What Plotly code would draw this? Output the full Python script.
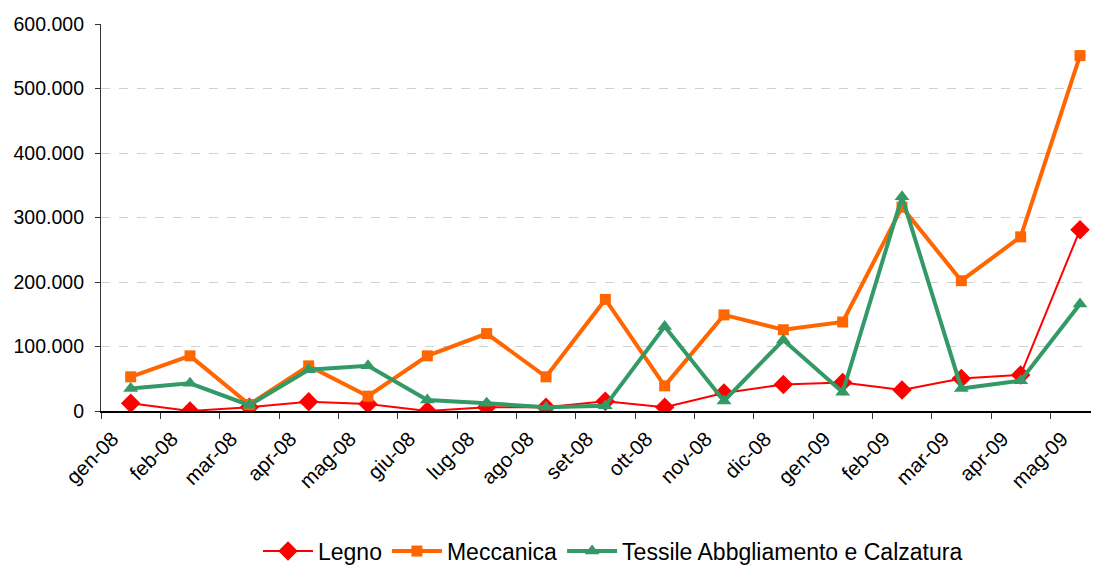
import plotly.graph_objects as go

months = ["gen-08", "feb-08", "mar-08", "apr-08", "mag-08", "giu-08", "lug-08", "ago-08",
          "set-08", "ott-08", "nov-08", "dic-08", "gen-09", "feb-09", "mar-09", "apr-09", "mag-09"]

legno = [12000, 0, 6000, 14500, 11000, 0, 6000, 6000, 15000, 6000, 28000, 41000, 44000,
         32500, 50500, 56000, 281000]
meccanica = [53000, 85500, 10000, 70000, 23000, 85500, 120000, 53000, 173000, 39000, 149000,
             126000, 138000, 316000, 202000, 270000, 551000]
tessile = [35000, 43000, 9000, 64000, 70000, 17000, 12000, 6000, 8000, 131000, 15500, 110000,
           29000, 332000, 35000, 47000, 166000]

y_ticks = [0, 100000, 200000, 300000, 400000, 500000, 600000]

fig = go.Figure()
fig.add_trace(go.Scatter(
    x=months, y=legno, name="Legno", mode="lines+markers",
    line=dict(color="#FF0000", width=2),
    marker=dict(symbol="diamond", size=15, color="#FF0000"),
))
fig.add_trace(go.Scatter(
    x=months, y=meccanica, name="Meccanica", mode="lines+markers",
    line=dict(color="#FF6600", width=4),
    marker=dict(symbol="square", size=11, color="#FF6600"),
))
fig.add_trace(go.Scatter(
    x=months, y=tessile, name="Tessile Abbgliamento e Calzatura", mode="lines+markers",
    line=dict(color="#339966", width=4),
    marker=dict(symbol="triangle-up", size=13, color="#339966"),
))

fig.update_layout(
    width=1091, height=557,
    margin=dict(l=93, r=0, t=16, b=154, autoexpand=False),
    paper_bgcolor="white", plot_bgcolor="white",
    separators=",.",
    font=dict(family="Liberation Sans, Arial, sans-serif", size=20, color="black"),
    showlegend=True,
    legend=dict(orientation="h", x=0.513, xanchor="center", y=-0.362, yanchor="middle",
                font=dict(size=23), itemwidth=50, tracegroupgap=0),
    xaxis=dict(
        type="category", range=[-0.5, 16.32], automargin=False,
        tickson="boundaries", ticks="outside", ticklen=6, tickcolor="#333333",
        tickangle=-45, showline=True, linecolor="black", linewidth=1.5,
        ticklabelshift=-18, ticklabelstandoff=6,
        showgrid=False, zeroline=False, tickfont=dict(size=20.5),
    ),
    yaxis=dict(
        range=[0, 600000], tickvals=y_ticks, tickformat=",d", automargin=False,
        ticks="outside", ticklen=5, tickcolor="#333333", ticklabelstandoff=7,
        showline=True, linecolor="#333333", linewidth=1.2,
        showgrid=True, gridcolor="#D0D0D0", griddash="dash", gridwidth=1,
        zeroline=False, tickfont=dict(size=19.5),
    ),
)

fig.write_html("out.html")
